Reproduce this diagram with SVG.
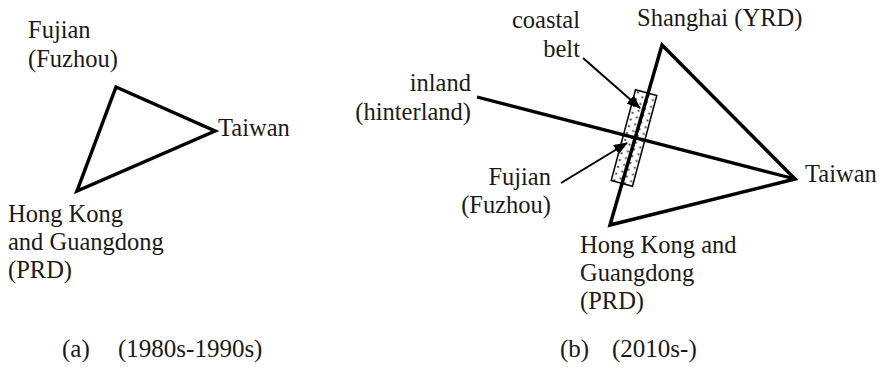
<svg xmlns="http://www.w3.org/2000/svg" width="880" height="381" viewBox="0 0 880 381">
<style>
.tri{fill:none;stroke:#000;stroke-width:3.5;stroke-linejoin:miter}
.thick{fill:none;stroke:#000;stroke-width:3.2}
.arr{fill:none;stroke:#000;stroke-width:2;marker-end:url(#ah)}
.end{text-anchor:end}
</style>
<defs>
<marker id="ah" viewBox="0 0 14 11" refX="13" refY="5.5" markerWidth="14" markerHeight="11" markerUnits="userSpaceOnUse" orient="auto">
<path d="M0,0 L14,5.5 L0,11 z" fill="#000"/>
</marker>
<pattern id="dots" x="623" y="91" width="11" height="7" patternUnits="userSpaceOnUse">
<rect width="11" height="7" fill="#fff"/>
<circle cx="3" cy="2" r="1.1" fill="#333"/>
<circle cx="8.5" cy="5.5" r="1.1" fill="#333"/>
</pattern>
</defs>
<g font-family="Liberation Serif, Times New Roman, DejaVu Serif, serif" font-size="24.5" fill="#1a1a1a">
<g id="panel-a">
<g id="triangle-a"><polygon class="tri" points="116,87 215,131 77,191"/></g>
<g id="fujian-a"><text x="28" y="38">Fujian</text><text x="28" y="67">(Fuzhou)</text></g>
<g id="taiwan-a"><text x="218" y="136">Taiwan</text></g>
<g id="hk-a"><text x="8" y="222">Hong Kong</text><text x="8" y="250">and Guangdong</text><text x="8" y="278">(PRD)</text></g>
<g id="caption-a" font-size="25"><text x="62" y="357">(a)</text><text x="118" y="357">(1980s-1990s)</text></g>
</g>
<g id="panel-b">
<g id="coastal-belt"><rect x="623" y="91" width="22" height="94" fill="url(#dots)" stroke="#000" stroke-width="1.5" transform="rotate(15 634 138)"/></g>
<g id="triangle-b"><polygon class="tri" points="662,45 795,179 610,225"/></g>
<g id="inland-line"><line class="thick" x1="477" y1="97" x2="795" y2="179"/></g>
<g id="connectors">
<line class="arr" x1="583" y1="58" x2="640" y2="108"/>
<line class="arr" x1="561" y1="183" x2="627" y2="143"/>
</g>
<g id="shanghai"><text x="637" y="26">Shanghai (YRD)</text></g>
<g id="coastal-label"><text class="end" x="580" y="28">coastal</text><text class="end" x="580" y="57">belt</text></g>
<g id="inland-label"><text class="end" x="471" y="91">inland</text><text class="end" x="471" y="120">(hinterland)</text></g>
<g id="taiwan-b"><text x="805" y="182">Taiwan</text></g>
<g id="fujian-b"><text class="end" x="551" y="185">Fujian</text><text class="end" x="551" y="213">(Fuzhou)</text></g>
<g id="hk-b"><text x="580" y="253">Hong Kong and</text><text x="580" y="281">Guangdong</text><text x="580" y="309">(PRD)</text></g>
<g id="caption-b" font-size="25"><text x="560" y="357">(b)</text><text x="612" y="357">(2010s-)</text></g>
</g>
</g>
</svg>
